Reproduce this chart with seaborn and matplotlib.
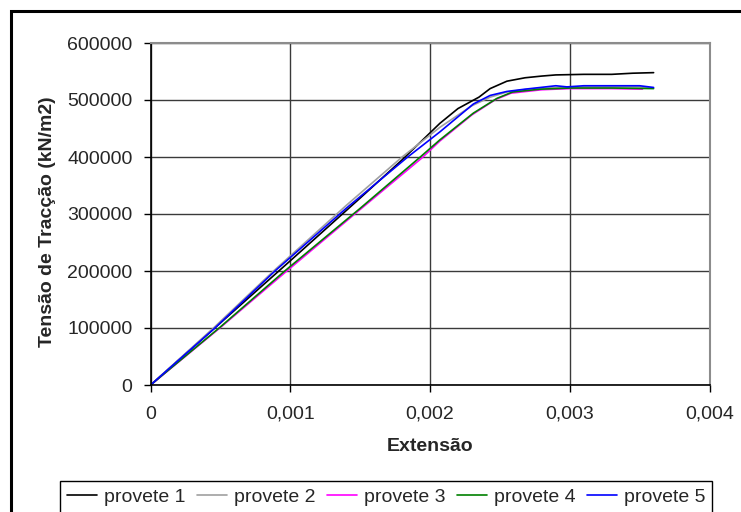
import numpy as np
import pandas as pd
import matplotlib
matplotlib.use("Agg")
import matplotlib.pyplot as plt
from matplotlib.patches import Rectangle
import seaborn as sns

# ---- data ----
series_names = ["provete 1", "provete 2", "provete 3", "provete 4", "provete 5"]

p1_x = [0, 0.0005, 0.001, 0.0015, 0.0018, 0.00207, 0.0022, 0.00235, 0.00243, 0.00255,
        0.00268, 0.0028, 0.0029, 0.0031, 0.0033, 0.00345, 0.0036]
p1_y = [0, 109000, 218000, 328000, 395000, 459000, 485000, 505000, 520000, 533000,
        539000, 542000, 544000, 545000, 545000, 547000, 548000]

p2_x = [0, 0.00045, 0.00088, 0.0014, 0.0018, 0.00207, 0.0023, 0.00243, 0.00255, 0.0027,
        0.0029, 0.0031, 0.0033, 0.0035, 0.00358]
p2_y = [0, 100000, 200000, 315000, 400000, 452000, 490000, 505000, 514000, 519000,
        522000, 523000, 523000, 523000, 521000]

p3_x = [0, 0.0005, 0.00097, 0.0015, 0.00194, 0.00207, 0.0023, 0.00247, 0.00258, 0.0028,
        0.003, 0.0033, 0.00352]
p3_y = [0, 101000, 199000, 308000, 398000, 428000, 474000, 501000, 512000, 518000,
        520000, 520000, 519000]

p4_x = [0, 0.0005, 0.00096, 0.0015, 0.00193, 0.00207, 0.00231, 0.00248, 0.00259, 0.00279,
        0.003, 0.0033, 0.0036]
p4_y = [0, 102000, 200000, 310000, 400000, 430000, 477000, 503000, 514000, 519000,
        521000, 521000, 520000]

p5_x = [0, 0.00046, 0.00089, 0.0014, 0.00184, 0.00207, 0.00231, 0.00243, 0.00255, 0.00268,
        0.00279, 0.0029, 0.00298, 0.0031, 0.0033, 0.0035, 0.0036]
p5_y = [0, 100000, 200000, 310000, 400000, 444000, 493000, 508000, 515000, 519000,
        522000, 525000, 523000, 525000, 525000, 525000, 522000]

x_ticks = [0, 0.001, 0.002, 0.003, 0.004]
x_tick_labels = ["0", "0,001", "0,002", "0,003", "0,004"]
y_ticks = [0, 100000, 200000, 300000, 400000, 500000, 600000]
y_tick_labels = ["0", "100000", "200000", "300000", "400000", "500000", "600000"]

colors = {"provete 1": "#000000", "provete 2": "#a0a0a0", "provete 3": "#ff00ff",
          "provete 4": "#008000", "provete 5": "#0000ff"}

frames = []
for name, xs, ys in zip(series_names, [p1_x, p2_x, p3_x, p4_x, p5_x],
                        [p1_y, p2_y, p3_y, p4_y, p5_y]):
    frames.append(pd.DataFrame({"x": xs, "y": ys, "provete": name}))
df = pd.concat(frames, ignore_index=True)

# ---- style ----
sns.set_style("ticks")
plt.rcParams["font.family"] = ["Liberation Sans", "DejaVu Sans"]

fig = plt.figure(figsize=(7.41, 5.12), dpi=100)
ax = fig.add_axes([150.6 / 741, 1 - 385 / 512, (709.5 - 150.6) / 741, (385 - 43) / 512])

sns.lineplot(data=df, x="x", y="y", hue="provete", palette=colors, hue_order=series_names,
             sort=False, estimator=None, units="provete", linewidth=1.2, ax=ax, legend=False)

ax.set_xlim(0, 0.004)
ax.set_ylim(0, 600000)
ax.set_xticks(x_ticks)
ax.set_xticklabels(x_tick_labels, fontsize=14)
ax.set_yticks(y_ticks)
ax.set_yticklabels(y_tick_labels, fontsize=14)
ax.tick_params(axis="both", direction="out", length=5, width=1, color="black")
ax.tick_params(axis="y", pad=8)
ax.tick_params(axis="x", pad=10)

ax.grid(True, color="#3a3a3a", linewidth=1.0)
ax.set_axisbelow(True)
for s in ["left", "bottom"]:
    ax.spines[s].set_color("black")
    ax.spines[s].set_linewidth(1.2)
for s in ["top", "right"]:
    ax.spines[s].set_visible(True)
    ax.spines[s].set_color("#8c8c8c")
    ax.spines[s].set_linewidth(1.5)

ax.set_xlabel("Extensão", fontsize=14, fontweight="bold", labelpad=11)
ax.set_ylabel("Tensão de Tracção (kN/m2)", fontsize=14, fontweight="bold")
ax.yaxis.set_label_coords(-0.169, 0.478)

# legend (its lower edge runs past the bottom of the picture, as in the reference)
handles = [plt.Line2D([], [], color=colors[n], linewidth=1.2) for n in series_names]
leg = fig.legend(handles, series_names, loc="upper left", ncol=5,
                 bbox_to_anchor=(60 / 741, 1 - 481 / 512), fontsize=14,
                 frameon=True, fancybox=False, edgecolor="black", framealpha=1,
                 handlelength=1.54, handletextpad=0.36, columnspacing=0.59,
                 borderpad=0.36, borderaxespad=0)
leg.get_frame().set_linewidth(1.0)

# outer chart frame
fig.patches.append(Rectangle((11 / 741, -0.05), 1.0, 1 - 11 / 512 + 0.05,
                             transform=fig.transFigure, fill=False,
                             edgecolor="black", linewidth=2.2))

fig.savefig("out.png", dpi=100)
